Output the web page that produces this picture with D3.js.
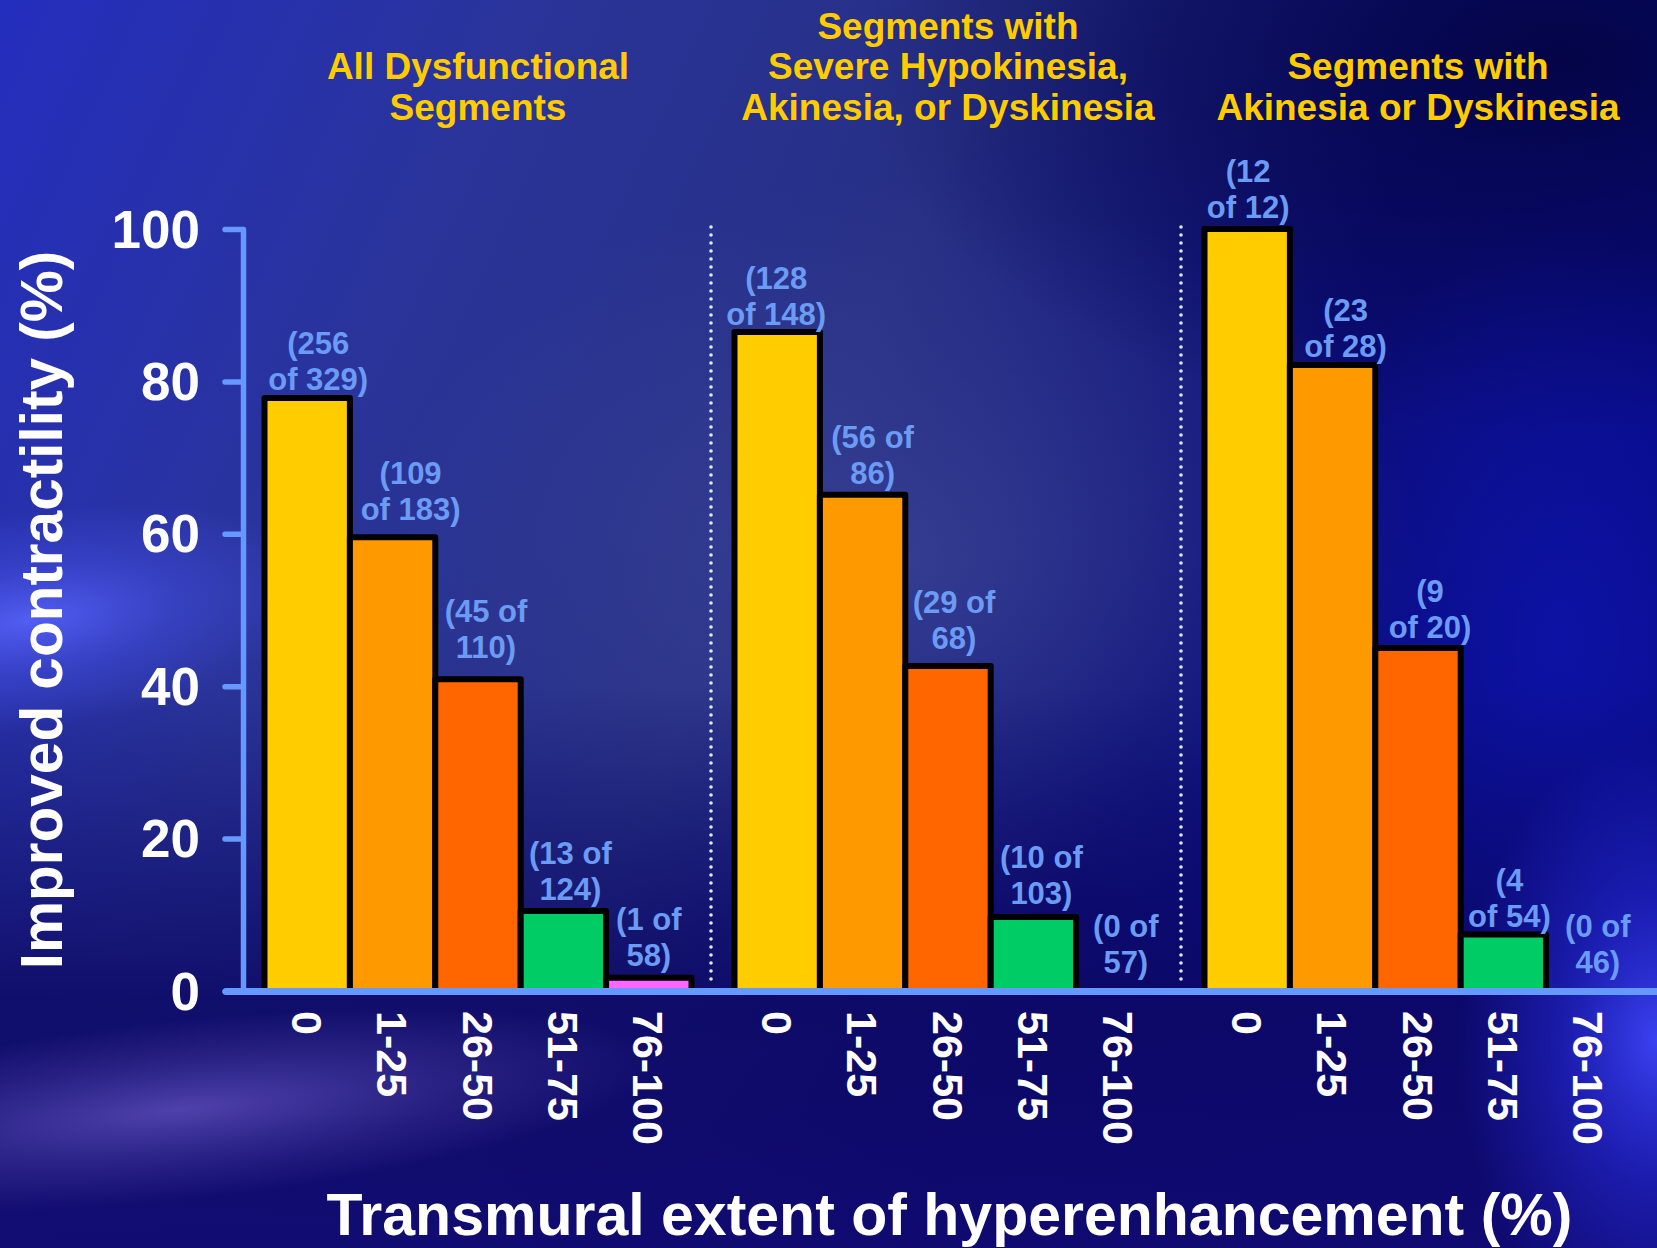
<!DOCTYPE html>
<html>
<head>
<meta charset="utf-8">
<script src="https://cdn.jsdelivr.net/npm/d3@7"></script>
<style>
  html, body { margin: 0; padding: 0; background: #1a1f8a; overflow: hidden; }
  svg { display: block; }
  text { font-family: "Liberation Sans", Arial, Helvetica, sans-serif; font-weight: bold; }
</style>
</head>
<body>
<svg id="chart" width="1657" height="1248"></svg>
<script>
// ---- data ----
const groupTitles = [
  ["All Dysfunctional", "Segments"],
  ["Segments with", "Severe Hypokinesia,", "Akinesia, or Dyskinesia"],
  ["Segments with", "Akinesia or Dyskinesia"]
];
const bins = ["0", "1-25", "26-50", "51-75", "76-100"];
const binColors = ["#ffcc00", "#ff9900", "#ff6600", "#00cc66", "#ff66ff"];

// segments with improved contractility / total segments, per transmural bin
const improvedAll = [256, 109, 45, 13, 1];
const totalAll    = [329, 183, 110, 124, 58];
const improvedSevere = [128, 56, 29, 10, 0];
const totalSevere    = [148, 86, 68, 103, 57];
const improvedAkinetic = [12, 23, 9, 4, 0];
const totalAkinetic    = [12, 28, 20, 54, 46];

// label wraps after "of" (true) or before it (false)
const wrapAfterOf = [
  [false, false, true, true, true],
  [false, true, true, true, true],
  [false, false, false, false, true]
];

const yTicks = [0, 20, 40, 60, 80, 100];
const yTitle = "Improved contractility (%)";
const xTitle = "Transmural extent of hyperenhancement (%)";

// ---- layout ----
const W = 1657, H = 1248;
const svg = d3.select("#chart");
const defs = svg.append("defs");

// background: deep blue slide with soft light streaks
function radial(id, stops, transform) {
  const g = defs.append("radialGradient").attr("id", id)
    .attr("gradientUnits", "userSpaceOnUse")
    .attr("cx", 0).attr("cy", 0).attr("r", 1)
    .attr("gradientTransform", transform);
  stops.forEach(s => g.append("stop").attr("offset", s[0]).attr("stop-color", s[1]).attr("stop-opacity", s[2]));
}
const base = defs.append("linearGradient").attr("id", "bgBase")
  .attr("x1", 0).attr("y1", 0).attr("x2", 1).attr("y2", 0.35);
[[0, "#242ebe"], [0.3, "#2a3498"], [0.55, "#262f84"], [0.8, "#0c0e78"], [1, "#080a86"]]
  .forEach(s => base.append("stop").attr("offset", s[0]).attr("stop-color", s[1]));
const bottom = defs.append("linearGradient").attr("id", "bgBottom")
  .attr("x1", 0).attr("y1", 0).attr("x2", 0).attr("y2", 1);
[[0, "#0c0a66", 0], [0.55, "#0c0a66", 0], [0.8, "#0c0864", 0.85], [1, "#100a70", 0.95]]
  .forEach(s => bottom.append("stop").attr("offset", s[0]).attr("stop-color", s[1]).attr("stop-opacity", s[2]));

radial("glowCenter", [[0, "#3d4798", 0.7], [1, "#3d4798", 0]], "translate(900,560) scale(520,380)");
radial("darkTopRight", [[0, "#03033e", 0.85], [0.55, "#04044a", 0.5], [1, "#04044a", 0]], "translate(1560,60) scale(700,380)");
radial("glowLeft", [[0, "#5a66ff", 0.85], [0.5, "#4a55f0", 0.4], [1, "#4a55f0", 0]], "translate(30,620) rotate(-8) scale(300,110)");
radial("glowPurple", [[0, "#6a58c8", 0.7], [0.6, "#5848b0", 0.3], [1, "#5848b0", 0]], "translate(180,1110) rotate(-6) scale(480,90)");
radial("glowRight", [[0, "#4048ff", 0.9], [0.5, "#2a30f0", 0.45], [1, "#2a30f0", 0]], "translate(1657,1040) scale(200,300)");
radial("glowRightMid", [[0, "#1018b8", 0.6], [1, "#1018b8", 0]], "translate(1560,640) scale(260,420)");

const bg = svg.append("g");
["bgBase", "glowCenter", "darkTopRight", "glowRightMid", "bgBottom", "glowLeft", "glowPurple", "glowRight"]
  .forEach(id => bg.append("rect").attr("width", W).attr("height", H).attr("fill", `url(#${id})`));

// scales
const y = d3.scaleLinear().domain([0, 100]).range([991, 229]);
const groupKeys = d3.range(groupTitles.length);
const gx = d3.scaleBand().domain(groupKeys).range([264.5, 1631.5]).paddingInner(43 / 470).paddingOuter(0);
const bx = d3.scaleBand().domain(bins).range([0, gx.bandwidth()]).padding(0);

const improved = [improvedAll, improvedSevere, improvedAkinetic];
const totals = [totalAll, totalSevere, totalAkinetic];
const rows = [];
groupKeys.forEach(g => bins.forEach((b, i) => {
  rows.push({
    g, bin: b, i,
    k: improved[g][i], n: totals[g][i],
    pct: improved[g][i] / totals[g][i] * 100,
    wrap: wrapAfterOf[g][i]
  });
}));

// group titles (one text element per title, lines as tspans)
const titleG = svg.append("g");
groupKeys.forEach(g => {
  const lines = groupTitles[g];
  const cx = gx(g) + gx.bandwidth() / 2;
  const t = titleG.append("text")
    .attr("x", cx)
    .attr("y", 119.5 - (lines.length - 1) * 40.5)
    .attr("text-anchor", "middle")
    .attr("fill", "#ffcc00")
    .attr("font-size", 37);
  t.selectAll("tspan").data(lines).join("tspan")
    .attr("x", cx)
    .attr("dy", (d, j) => j === 0 ? 0 : 40.5)
    .text(d => d);
});

// dotted separators between groups
const sepX = groupKeys.slice(1).map(g => gx(g) - (gx.step() - gx.bandwidth()) / 2 - 2);
svg.append("g").selectAll("line").data(sepX).join("line")
  .attr("x1", d => d).attr("x2", d => d)
  .attr("y1", 227).attr("y2", 987)
  .attr("stroke", "#dcecff")
  .attr("stroke-width", 3.6)
  .attr("stroke-linecap", "round")
  .attr("stroke-dasharray", "0 8");

// bars
svg.append("g").selectAll("rect").data(rows.filter(d => d.k > 0)).join("rect")
  .attr("x", d => gx(d.g) + bx(d.bin))
  .attr("width", bx.bandwidth())
  .attr("y", d => y(d.pct))
  .attr("height", d => y(0) - y(d.pct))
  .attr("fill", d => binColors[d.i])
  .attr("stroke", "#000")
  .attr("stroke-width", 6)
  .attr("stroke-linejoin", "round");

// count labels above bars (hand-tuned nudges per label)
const labelShiftX = [[11, 18, 8, 7, 0], [-1, 10, 6, 8, 7], [1, 13, 12, 6, 9]];
const labelShiftY = [[5, -4, -8, 2, 1], [6, 2, -4, 0, -5], [2, 5, 3, 5, -5]];
const lineStep = 36;
const labG = svg.append("g");
rows.forEach(d => {
  const lines = d.wrap ? [`(${d.k} of`, `${d.n})`] : [`(${d.k}`, `of ${d.n})`];
  const cx = gx(d.g) + bx(d.bin) + bx.bandwidth() / 2 + labelShiftX[d.g][d.i];
  const baseY = y(d.pct) - 13 + labelShiftY[d.g][d.i];
  const t = labG.append("text")
    .attr("x", cx)
    .attr("y", baseY - lineStep)
    .attr("text-anchor", "middle")
    .attr("fill", "#6b9bf4")
    .attr("font-size", 31);
  t.selectAll("tspan").data(lines).join("tspan")
    .attr("x", cx)
    .attr("dy", (s, j) => j === 0 ? 0 : lineStep)
    .text(s => s);
});

// y axis
const yAxis = svg.append("g").attr("transform", "translate(243,0)")
  .call(d3.axisLeft(y).tickValues(yTicks).tickSize(18).tickPadding(25).tickSizeOuter(0));
yAxis.select(".domain").attr("stroke", "#6699ff").attr("stroke-width", 5.5).attr("stroke-linecap", "round");
yAxis.selectAll(".tick line").attr("stroke", "#6699ff").attr("stroke-width", 5.5).attr("stroke-linecap", "round");
yAxis.selectAll(".tick text")
  .attr("fill", "#ffffff")
  .attr("font-size", 53)
  .attr("font-family", "Liberation Sans, Arial, sans-serif")
  .attr("font-weight", "bold")
  .attr("dy", "0.34em");

// x axis baseline
svg.append("line")
  .attr("x1", 226).attr("x2", W)
  .attr("y1", y(0) + 0.5).attr("y2", y(0) + 0.5)
  .attr("stroke", "#6699ff").attr("stroke-width", 7).attr("stroke-linecap", "round");

// rotated bin labels
svg.append("g").selectAll("text").data(rows).join("text")
  .attr("transform", d => `translate(${gx(d.g) + bx(d.bin) + bx.bandwidth() / 2},1011) rotate(90)`)
  .attr("dy", "0.36em")
  .attr("text-anchor", "start")
  .attr("fill", "#ffffff")
  .attr("font-size", 43)
  .text(d => d.bin);

// axis titles
svg.append("text")
  .attr("transform", "translate(62,610) rotate(-90)")
  .attr("text-anchor", "middle")
  .attr("fill", "#ffffff")
  .attr("font-size", 58.5)
  .text(yTitle);

svg.append("text")
  .attr("x", 949.5).attr("y", 1235)
  .attr("text-anchor", "middle")
  .attr("fill", "#ffffff")
  .attr("font-size", 59)
  .text(xTitle);
</script>
</body>
</html>
